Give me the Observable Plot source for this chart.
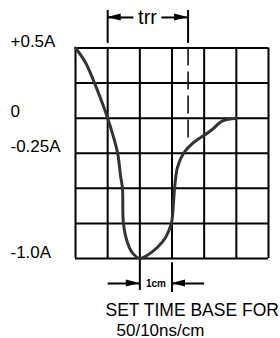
<!DOCTYPE html>
<html><head><meta charset="utf-8">
<script src="https://cdn.jsdelivr.net/npm/d3@7"></script>
<script src="https://cdn.jsdelivr.net/npm/@observablehq/plot@0.6"></script>
<style>body{margin:0;background:#fff} svg{display:block}</style>
</head><body><div id="chart"></div>
<script>
// grid divisions (time in cm, current in A)
const gridX = [0, 1, 2, 3, 4, 5, 6];
const gridY = [0.5, 0.25, 0, -0.25, -0.5, -0.75, -1.0];
// recovery current trace
const curveT = [0, 0.31, 0.56, 0.78, 1.0, 1.15, 1.31, 1.40, 1.46, 1.49, 1.62, 1.77, 2.0, 2.21, 2.55, 2.80, 2.98, 3.05, 3.08, 3.17, 3.36, 3.64, 4.20, 4.57, 5.0];
const curveA = [0.5, 0.397, 0.268, 0.14, 0, -0.11, -0.25, -0.41, -0.5, -0.75, -0.89, -0.96, -1.0, -0.98, -0.92, -0.85, -0.75, -0.59, -0.5, -0.35, -0.25, -0.18, -0.09, -0.02, 0];
// y tick labels
const tickValues = [0.5, 0, -0.25, -1.0];
const tickLabels = ["+0.5A", "0", "-0.25A", "-1.0A"];
// annotations
const trrStart = 1, trrEnd = 3.5, trrLabel = "trr";
const cmStart = 2, cmEnd = 3, cmLabel = "1cm";
const captionLines = ["SET TIME BASE FOR", "50/10ns/cm"];

const curve = curveT.map((t, i) => ({t, a: curveA[i]}));
const ticks = tickValues.map((v, i) => ({v, label: tickLabels[i]}));
const font = "'Liberation Sans', Arial, sans-serif";
const div = 0.25; // A per division

const trrY = 0.5 + 0.87 * div;
const cmY = -1.0 - 0.71 * div;
const trrArrows = [{x1: trrStart + 0.8, x2: trrStart}, {x1: trrEnd - 0.83, x2: trrEnd}];
const cmArrows = [{x1: cmStart - 1, x2: cmStart}, {x1: cmEnd + 1, x2: cmEnd}];

// filled arrowheads built as small areas (tip -> base)
const headLen = 0.42;       // in divisions
const headHalf = 0.1 * div; // in amps
function heads(arrows, y) {
  const rows = [];
  arrows.forEach((a, i) => {
    const dir = Math.sign(a.x2 - a.x1);
    rows.push({g: i, x: a.x2, lo: y, hi: y});
    rows.push({g: i, x: a.x2 - dir * headLen, lo: y - headHalf, hi: y + headHalf});
  });
  return rows;
}

const chart = Plot.plot({
  width: 280, height: 338,
  marginLeft: 75, marginRight: 12, marginTop: 47.5, marginBottom: 80,
  x: {domain: [0, 6], axis: null},
  y: {domain: [-1, 0.5], axis: null},
  style: {background: "#fff", fontFamily: font},
  marks: [
    Plot.ruleX(gridX, {stroke: "#000", strokeWidth: 2}),
    Plot.ruleY(gridY, {stroke: "#000", strokeWidth: 2}),
    // dashed trr end marker
    Plot.ruleX([trrEnd], {y1: 0.5, y2: -0.65 * div, stroke: "#000", strokeWidth: 1.5, strokeDasharray: "18,6"}),
    // trr bracket
    Plot.ruleX([trrStart, trrEnd], {y1: 0.5 + 0.13 * div, y2: 0.5 + 1.07 * div, stroke: "#000", strokeWidth: 2}),
    Plot.link(trrArrows, {x1: "x1", x2: "x2", y1: trrY, y2: trrY, stroke: "#000", strokeWidth: 2}),
    Plot.areaY(heads(trrArrows, trrY), {x: "x", y1: "lo", y2: "hi", z: "g", fill: "#000"}),
    Plot.text([trrLabel], {x: (trrStart + trrEnd) / 2 - 0.01, y: trrY, text: d => d,
      fontSize: 20, fontFamily: font, letterSpacing: "1px", lineAnchor: "middle", fill: "#000"}),
    // 1cm marker
    Plot.ruleX([cmStart], {y1: -1.0, y2: -1.0 - 0.91 * div, stroke: "#000", strokeWidth: 2}),
    Plot.ruleX([cmEnd], {y1: -1.0 - 0.12 * div, y2: -1.0 - 0.97 * div, stroke: "#000", strokeWidth: 2}),
    Plot.link(cmArrows, {x1: "x1", x2: "x2", y1: cmY, y2: cmY, stroke: "#000", strokeWidth: 2}),
    Plot.areaY(heads(cmArrows, cmY), {x: "x", y1: "lo", y2: "hi", z: "g", fill: "#000"}),
    Plot.text([cmLabel], {x: (cmStart + cmEnd) / 2, y: cmY, text: d => d,
      fontSize: 10, fontWeight: "bold", fontFamily: font, lineAnchor: "middle", fill: "#000"}),
    // trace
    Plot.line(curve, {x: "t", y: "a", curve: "catmull-rom", stroke: "#333", strokeWidth: 3}),
    // y labels
    Plot.text(ticks, {y: "v", text: "label", frameAnchor: "left", dx: -65, dy: -1,
      textAnchor: "start", lineAnchor: "bottom", fontSize: 17, letterSpacing: "1.6px",
      fontFamily: font, fill: "#000"}),
    // caption
    Plot.text([captionLines[0]], {text: d => d, frameAnchor: "bottom-left", dx: 30, dy: 57,
      textAnchor: "start", lineAnchor: "bottom", fontSize: 17.5, fontFamily: font, fill: "#000"}),
    Plot.text([captionLines[1]], {text: d => d, frameAnchor: "bottom-left", dx: 41, dy: 77,
      textAnchor: "start", lineAnchor: "bottom", fontSize: 17, fontFamily: font, fill: "#000"})
  ]
});
document.getElementById("chart").append(chart);
</script>
</body></html>
